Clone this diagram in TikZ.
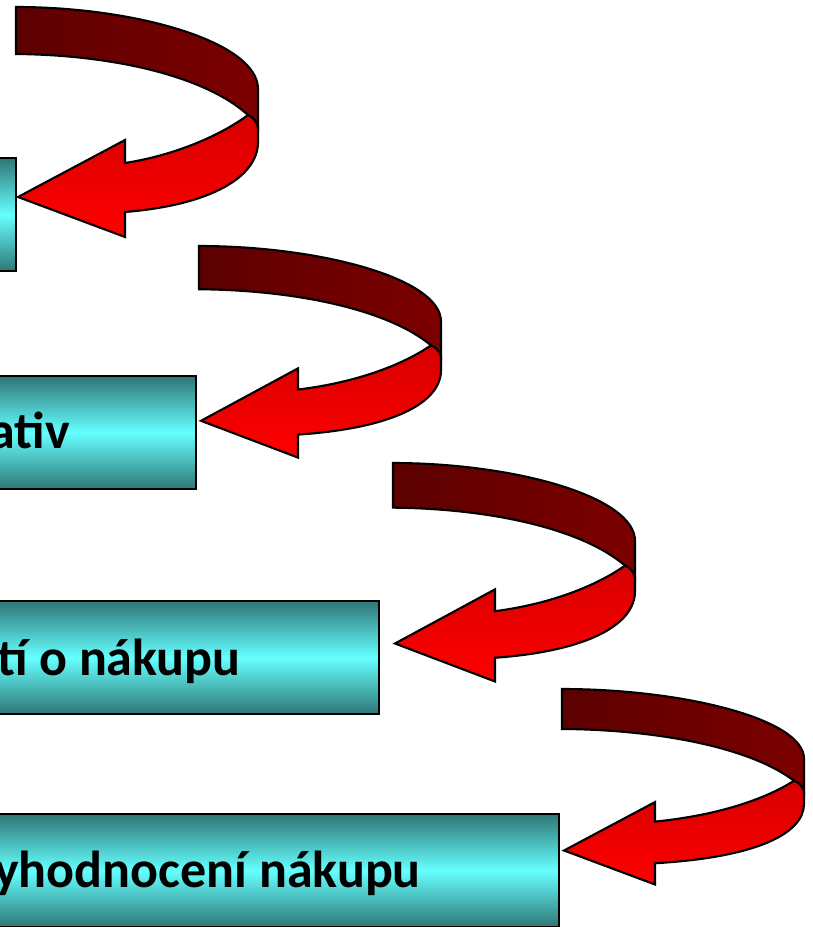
\documentclass[tikz,border=0pt]{standalone}
\usepackage{fontspec}
\setmainfont{Carlito}
\definecolor{BoxTeal}{RGB}{46,118,118}
\definecolor{BoxCyan}{RGB}{102,255,255}
\definecolor{ArrowDark}{RGB}{92,0,0}
\definecolor{ArrowMaroon}{RGB}{125,0,0}
\definecolor{ArrowRed}{RGB}{215,0,0}
\definecolor{ArrowBright}{RGB}{255,0,0}

\tikzset{
  stagebox/.style={draw=black, line width=1.6pt, anchor=north east, minimum width=15.5cm, minimum height=2.825cm, inner sep=0pt, top color=BoxTeal, bottom color=BoxTeal, middle color=BoxCyan},
  stagetext/.style={anchor=base east, inner sep=0pt, font=\bfseries\fontsize{37}{42}\selectfont},
  ribbonback/.style={draw=black, line width=1.5pt, left color=ArrowDark, right color=ArrowMaroon},
  ribbonfront/.style={draw=black, line width=1.5pt, top color=ArrowRed, bottom color=ArrowBright}
}

\begin{document}
\begin{tikzpicture}[x=0.025cm, y=-0.025cm]
  \useasboundingbox (0,0) rectangle (813,927);
  \clip (0,0) rectangle (813,927);

  % Stages
  \node[stagebox] (s1) at (17,157) {};
  \node[stagebox] (s2) at (197,375) {};
  \node[stagebox] (s3) at (380,600) {};
  \node[stagebox] (s4) at (560,813) {};
  \node[stagetext] (t2) at (70,448) {ativ};
  \node[stagetext] (t3) at (241,675) {tí o nákupu};
  \node[stagetext] (t4) at (421,887) {Vyhodnocení nákupu};

  % Curved arrows
  \foreach \ax/\ay/\ys/\hx in {16/7/1/109, 199/246/0.92/99, 393/463/0.95/102, 562/689/0.85/93}{
    \begin{scope}[shift={(\ax,\ay)}, yscale=\ys]
      \filldraw[ribbonback] (0,0) .. controls (120,0) and (242,35) .. (242,82) -- (242,120) .. controls (240,114) and (237,110) .. (232,108) .. controls (190,70) and (100,48) .. (0,47) -- cycle;
      \filldraw[ribbonfront] (232,108) .. controls (205,128) and (160,148) .. (\hx,156) -- (\hx,133) -- (2,190) -- (\hx,230) -- (\hx,205) .. controls (195,198) and (242,170) .. (242,135) -- (242,120) .. controls (240,114) and (237,110) .. (232,108) -- cycle;
    \end{scope}
  }
\end{tikzpicture}
\end{document}
